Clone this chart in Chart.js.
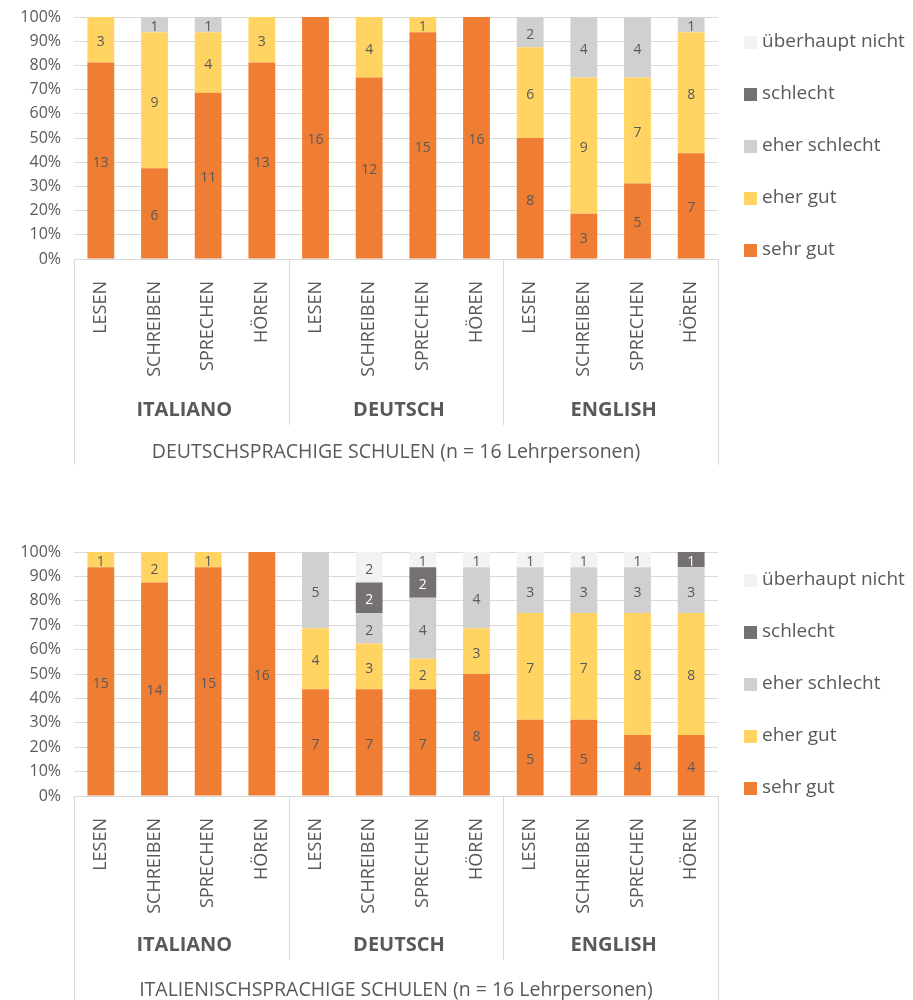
<!DOCTYPE html>
<html>
<head>
<meta charset="utf-8">
<script src="https://cdn.jsdelivr.net/npm/chart.js@4.4.1/dist/chart.umd.min.js"></script>
<style>
  html, body { margin: 0; padding: 0; background: #fff; overflow: hidden; }
  .panel { position: absolute; left: 0; width: 913px; height: 465px; }
</style>
</head>
<body>
<div class="panel" style="top:0"><canvas id="chartDe" width="913" height="465"></canvas></div>
<div class="panel" style="top:535px"><canvas id="chartIt" width="913" height="465"></canvas></div>
<script>
// Skills per language, three languages of four skills each
const categories = [
  'LESEN', 'SCHREIBEN', 'SPRECHEN', 'HÖREN',
  'LESEN', 'SCHREIBEN', 'SPRECHEN', 'HÖREN',
  'LESEN', 'SCHREIBEN', 'SPRECHEN', 'HÖREN'
];
const languageGroups = ['ITALIANO', 'DEUTSCH', 'ENGLISH'];
const ratingLabels = ['sehr gut', 'eher gut', 'eher schlecht', 'schlecht', 'überhaupt nicht'];
const yTickLabels = ['0%', '10%', '20%', '30%', '40%', '50%', '60%', '70%', '80%', '90%', '100%'];
const respondents = 16;

// Deutschsprachige Schulen – number of teachers per rating
const deSehrGut          = [13, 6, 11, 13, 16, 12, 15, 16, 8, 3, 5, 7];
const deEherGut          = [3, 9, 4, 3, 0, 4, 1, 0, 6, 9, 7, 8];
const deEherSchlecht     = [0, 1, 1, 0, 0, 0, 0, 0, 2, 4, 4, 1];
const deSchlecht         = [0, 0, 0, 0, 0, 0, 0, 0, 0, 0, 0, 0];
const deUeberhauptNicht  = [0, 0, 0, 0, 0, 0, 0, 0, 0, 0, 0, 0];

// Italienischsprachige Schulen – number of teachers per rating
const itSehrGut          = [15, 14, 15, 16, 7, 7, 7, 8, 5, 5, 4, 4];
const itEherGut          = [1, 2, 1, 0, 4, 3, 2, 3, 7, 7, 8, 8];
const itEherSchlecht     = [0, 0, 0, 0, 5, 2, 4, 4, 3, 3, 3, 3];
const itSchlecht         = [0, 0, 0, 0, 0, 2, 2, 0, 0, 0, 0, 1];
const itUeberhauptNicht  = [0, 0, 0, 0, 0, 2, 1, 1, 1, 1, 1, 0];

const palette = ['#F07D34', '#FFD462', '#D0D0D0', '#767171', '#F2F2F2'];
const labelColors = ['#595959', '#595959', '#595959', '#FFFFFF', '#595959'];
const textColor = '#595959';
const lineColor = '#D9D9D9';
const FONT = "'Open Sans', sans-serif";

function buildDatasets(seriesList) {
  return seriesList.map((counts, i) => ({
    label: ratingLabels[i],
    counts: counts,
    data: counts.map(v => v / respondents * 100),
    backgroundColor: palette[i],
    borderWidth: 0,
    barPercentage: 0.5,
    categoryPercentage: 1.0
  }));
}

// Count labels centred inside each segment
const segmentLabels = {
  id: 'segmentLabels',
  afterDatasetsDraw(chart) {
    const ctx = chart.ctx;
    ctx.save();
    ctx.font = '14px ' + FONT;
    ctx.textAlign = 'center';
    ctx.textBaseline = 'middle';
    chart.data.datasets.forEach((ds, di) => {
      const meta = chart.getDatasetMeta(di);
      meta.data.forEach((bar, i) => {
        const n = ds.counts[i];
        if (!n) return;
        ctx.fillStyle = labelColors[di];
        ctx.fillText(String(n), bar.x, (bar.y + bar.base) / 2 + 2.5);
      });
    });
    ctx.restore();
  }
};

// Group axis below the skills, footer title and legend
const groupFrame = {
  id: 'groupFrame',
  afterDraw(chart, args, opts) {
    const ctx = chart.ctx;
    const a = chart.chartArea;
    const x = chart.scales.x;
    const per = x.getPixelForValue(1) - x.getPixelForValue(0);
    ctx.save();
    ctx.strokeStyle = lineColor;
    ctx.lineWidth = 1;
    // outer frame and group separators
    const frameBottom = chart.height;
    ctx.beginPath();
    ctx.moveTo(Math.round(a.left) + 0.5, a.bottom);
    ctx.lineTo(Math.round(a.left) + 0.5, frameBottom);
    ctx.moveTo(Math.round(a.right) + 0.5, a.bottom);
    ctx.lineTo(Math.round(a.right) + 0.5, frameBottom);
    for (let g = 1; g < languageGroups.length; g++) {
      const gx = Math.round(x.getPixelForValue(g * 4) - per / 2) + 0.5;
      ctx.moveTo(gx, a.bottom);
      ctx.lineTo(gx, 425);
    }
    ctx.stroke();

    // language group labels
    ctx.fillStyle = textColor;
    ctx.textAlign = 'center';
    ctx.textBaseline = 'middle';
    ctx.font = 'bold 20px ' + FONT;
    languageGroups.forEach((name, g) => {
      const gx0 = x.getPixelForValue(g * 4) - per / 2;
      const gx1 = x.getPixelForValue(g * 4 + 3) + per / 2;
      ctx.fillText(name, (gx0 + gx1) / 2 + 3, 410);
    });

    // footer title
    ctx.font = '19.5px ' + FONT;
    ctx.fillText(opts.title, (a.left + a.right) / 2, opts.titleY);

    // legend, top entry last series
    ctx.textAlign = 'left';
    ctx.font = '19px ' + FONT;
    const n = chart.data.datasets.length;
    for (let k = 0; k < n; k++) {
      const ds = chart.data.datasets[n - 1 - k];
      const cy = opts.legendTop + k * 52;
      ctx.fillStyle = ds.backgroundColor;
      ctx.fillRect(744, cy - 6, 13, 13);
      ctx.fillStyle = textColor;
      ctx.fillText(ds.label, 762, cy);
    }
    ctx.restore();
  }
};

function makeChart(id, seriesList, title, axisHeight, titleY, legendTop) {
  return new Chart(document.getElementById(id), {
    type: 'bar',
    data: { labels: categories, datasets: buildDatasets(seriesList) },
    options: {
      responsive: false,
      animation: false,
      devicePixelRatio: 1,
      layout: { padding: { top: 17, right: 195, left: 0, bottom: 0 } },
      plugins: {
        legend: { display: false },
        tooltip: { enabled: false },
        groupFrame: { title: title, titleY: titleY, legendTop: legendTop }
      },
      scales: {
        x: {
          stacked: true,
          grid: { display: false },
          border: { display: false },
          ticks: {
            autoSkip: false,
            minRotation: 90,
            maxRotation: 90,
            padding: 14,
            color: textColor,
            font: { family: FONT, size: 18 }
          },
          afterFit(scale) { scale.height = axisHeight; }
        },
        y: {
          stacked: true,
          min: 0,
          max: 100,
          grid: { color: lineColor, drawTicks: false },
          border: { display: false },
          ticks: {
            stepSize: 10,
            padding: 13,
            color: textColor,
            font: { family: FONT, size: 16 },
            callback: (v) => yTickLabels[Math.round(v / 10)]
          },
          afterFit(scale) {
            scale.width = 74;
            scale.paddingTop = 0;
            scale.paddingBottom = 0;
          }
        }
      }
    },
    plugins: [segmentLabels, groupFrame]
  });
}

makeChart('chartDe', [deSehrGut, deEherGut, deEherSchlecht, deSchlecht, deUeberhauptNicht],
  'DEUTSCHSPRACHIGE SCHULEN (n = 16 Lehrpersonen)', 206, 452, 42);
makeChart('chartIt', [itSehrGut, itEherGut, itEherSchlecht, itSchlecht, itUeberhauptNicht],
  'ITALIENISCHSPRACHIGE SCHULEN (n = 16 Lehrpersonen)', 204, 455, 45);
</script>
</body>
</html>
